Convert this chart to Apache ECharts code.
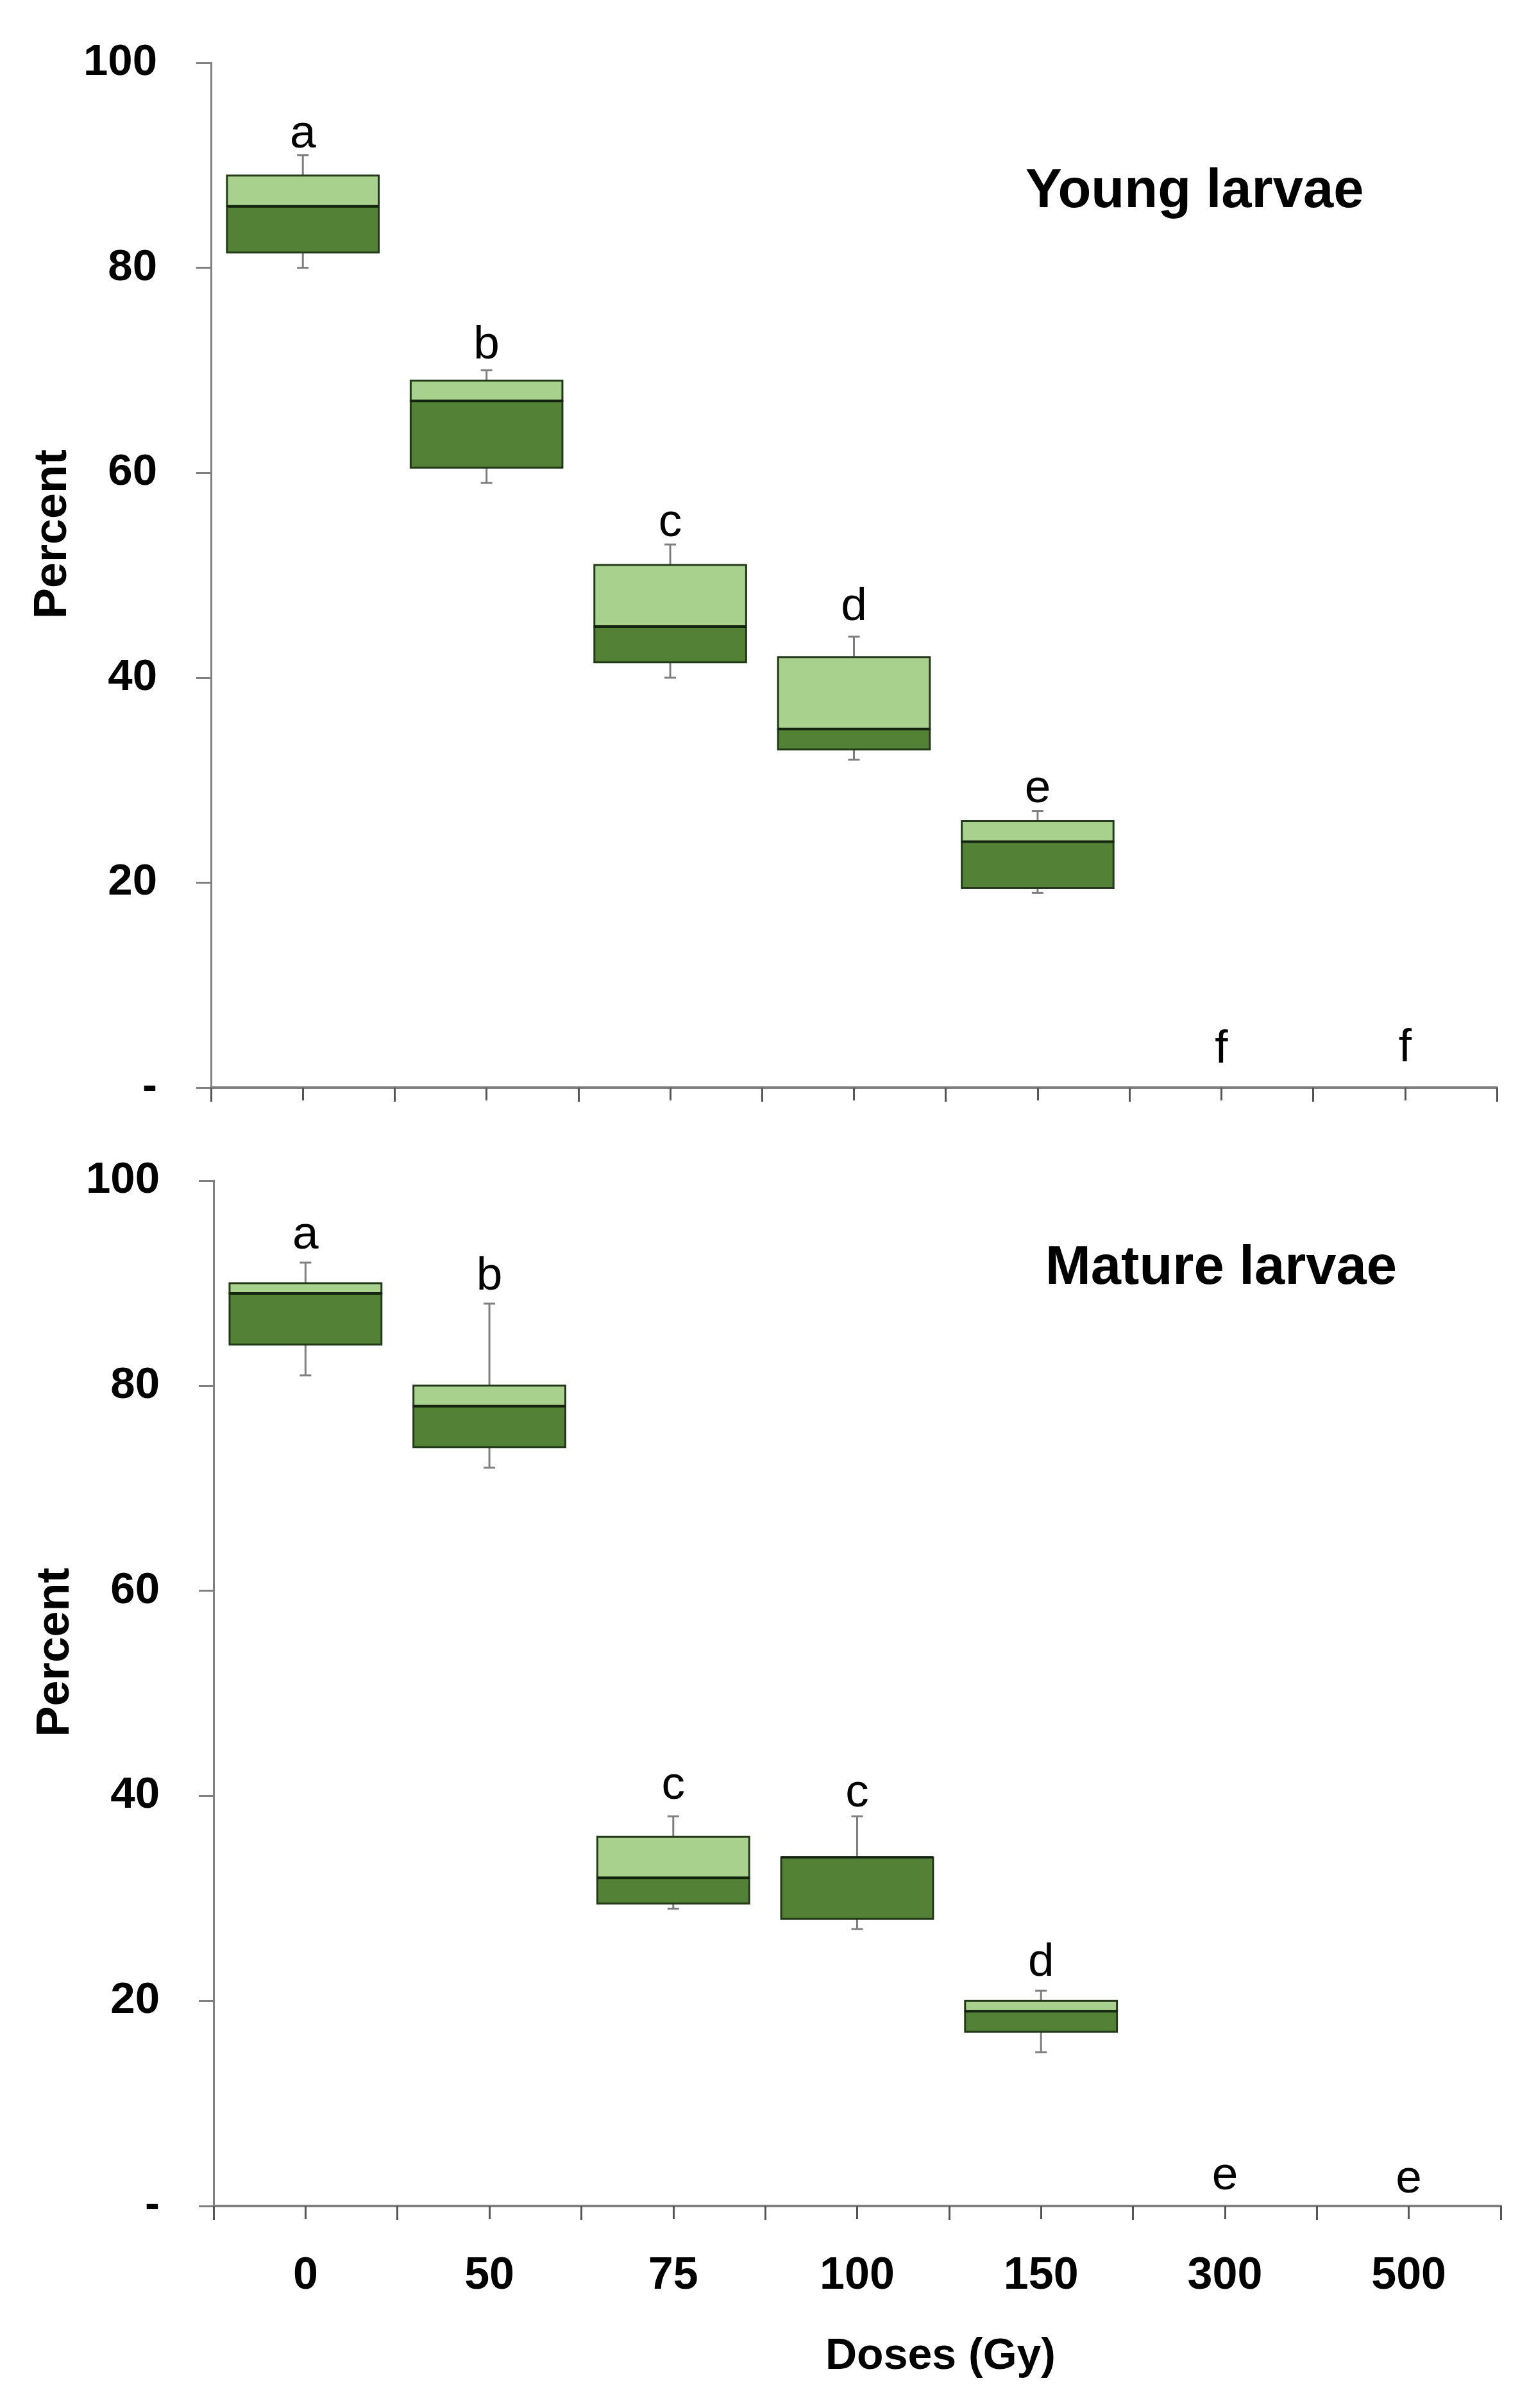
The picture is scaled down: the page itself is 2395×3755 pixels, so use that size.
<!DOCTYPE html>
<html>
<head>
<meta charset="utf-8">
<script src="https://cdn.jsdelivr.net/npm/echarts@6/dist/echarts.min.js"></script>
<style>
  html, body { margin: 0; padding: 0; background: #ffffff; }
  #chart { width: 2395px; height: 3755px; }
</style>
</head>
<body>
<div id="chart"></div>
<script>
// ---- data ----
const categories = ['0', '50', '75', '100', '150', '300', '500'];
const yTicks = [0, 20, 40, 60, 80, 100];

// Young larvae: whisker min, lower box edge, middle line, upper box edge, whisker max
const youngMin = [80, 59, 40, 32, 19];
const youngLow = [81.5, 60.5, 41.5, 33, 19.5];
const youngMid = [86, 67, 45, 35, 24];
const youngHigh = [89, 69, 51, 42, 26];
const youngMax = [91, 70, 53, 44, 27];
const youngLetters = ['a', 'b', 'c', 'd', 'e', 'f', 'f'];
const youngLetterAt = [93.0, 72.4, 55.1, 46.9, 29.1, 3.7, 3.8];

// Mature larvae
const matureMin = [81, 72, 29, 27, 15];
const matureLow = [84, 74, 29.5, 28, 17];
const matureMid = [89, 78, 32, 34, 19];
const matureHigh = [90, 80, 36, 34, 20];
const matureMax = [92, 88, 38, 38, 21];
const matureLetters = ['a', 'b', 'c', 'c', 'd', 'e', 'e'];
const matureLetterAt = [94.6, 90.6, 41.0, 40.2, 23.7, 2.9, 2.6];

// ---- styles ----
const FONT = 'Liberation Sans, Arial, sans-serif';
const DARK = '#538135';
const LIGHT = '#a9d18e';
const EDGE = '#23391a';
const WHISKER = '#7f7f7f';

function boxData(mn, lo, md, hi, mx) {
  return mn.map((v, i) => [i, mn[i], lo[i], md[i], hi[i], mx[i]]);
}
function letterData(pos) {
  return pos.map((v, i) => [i, v]);
}

function renderBox(params, api) {
  const x = api.value(0);
  const pMin = api.coord([x, api.value(1)]);
  const pLow = api.coord([x, api.value(2)]);
  const pMid = api.coord([x, api.value(3)]);
  const pHigh = api.coord([x, api.value(4)]);
  const pMax = api.coord([x, api.value(5)]);
  const bw = api.size([1, 0])[0] * 0.826;
  const cx = pLow[0];
  const left = cx - bw / 2;
  const cap = 9;
  const ws = { stroke: WHISKER, lineWidth: 3 };
  const children = [
    { type: 'line', shape: { x1: cx, y1: pHigh[1], x2: cx, y2: pMax[1] }, style: ws },
    { type: 'line', shape: { x1: cx - cap, y1: pMax[1], x2: cx + cap, y2: pMax[1] }, style: ws },
    { type: 'line', shape: { x1: cx, y1: pLow[1], x2: cx, y2: pMin[1] }, style: ws },
    { type: 'line', shape: { x1: cx - cap, y1: pMin[1], x2: cx + cap, y2: pMin[1] }, style: ws },
    { type: 'rect', shape: { x: left, y: pMid[1], width: bw, height: pLow[1] - pMid[1] },
      style: { fill: DARK, stroke: EDGE, lineWidth: 3 } },
    { type: 'rect', shape: { x: left, y: pHigh[1], width: bw, height: pMid[1] - pHigh[1] },
      style: { fill: LIGHT, stroke: EDGE, lineWidth: 3 } },
    { type: 'line', shape: { x1: left, y1: pMid[1], x2: left + bw, y2: pMid[1] },
      style: { stroke: '#15240f', lineWidth: 4 } }
  ];
  return { type: 'group', children: children };
}

function letterRenderer(letters) {
  return function (params, api) {
    const p = api.coord([api.value(0), api.value(1)]);
    return {
      type: 'text', x: p[0], y: p[1],
      style: { text: letters[params.dataIndex], fontSize: 73, fontFamily: FONT,
               fill: '#000', align: 'center', verticalAlign: 'middle' }
    };
  };
}

function xAxisMain(gridIndex, showLabels) {
  return {
    type: 'category', gridIndex: gridIndex, data: categories, position: 'bottom',
    boundaryGap: true,
    axisLine: { show: true, lineStyle: { color: '#808080', width: 4 } },
    axisTick: { show: true, interval: 0, length: 22, lineStyle: { color: '#555555', width: 3 } },
    axisLabel: { show: showLabels, interval: 0, margin: 75, fontSize: 70, fontWeight: 'bold',
                 color: '#000', fontFamily: FONT },
    splitLine: { show: false },
    name: showLabels ? 'Doses (Gy)' : '',
    nameLocation: 'middle', nameGap: 201,
    nameTextStyle: { fontSize: 68, fontWeight: 'bold', color: '#000', fontFamily: FONT,
                     padding: [0, 0, 0, 260] }
  };
}
function xAxisCenterTicks(gridIndex) {
  return {
    type: 'category', gridIndex: gridIndex, data: categories, position: 'bottom',
    boundaryGap: true,
    axisLine: { show: false },
    axisTick: { show: true, interval: 0, alignWithLabel: true, length: 20,
                lineStyle: { color: '#555555', width: 3 } },
    axisLabel: { show: false },
    splitLine: { show: false }
  };
}
function yAxis(gridIndex) {
  return {
    type: 'value', gridIndex: gridIndex, min: yTicks[0], max: yTicks[yTicks.length - 1],
    interval: yTicks[1] - yTicks[0],
    axisLine: { show: true, lineStyle: { color: '#808080', width: 3 } },
    axisTick: { show: true, length: 23, lineStyle: { color: '#808080', width: 3 } },
    axisLabel: { margin: 84, fontSize: 69, fontWeight: 'bold', color: '#000', fontFamily: FONT,
                 formatter: v => (v === 0 ? '-' : String(v)) },
    splitLine: { show: false },
    name: 'Percent', nameLocation: 'middle', nameGap: 200,
    nameTextStyle: { fontSize: 72, fontWeight: 'bold', color: '#000', fontFamily: FONT,
                     padding: [0, 0, 0, 128] }
  };
}

const chart = echarts.init(document.getElementById('chart'));
chart.setOption({
  animation: false,
  backgroundColor: '#ffffff',
  title: [
    { text: 'Young larvae', left: 1599, top: 257, padding: 0,
      textStyle: { fontSize: 85, fontWeight: 'bold', color: '#000', fontFamily: FONT, lineHeight: 85 } },
    { text: 'Mature larvae', left: 1630, top: 1936, padding: 0,
      textStyle: { fontSize: 85, fontWeight: 'bold', color: '#000', fontFamily: FONT, lineHeight: 85 } }
  ],
  grid: [
    { left: 329, right: 61, top: 98, height: 1598 },
    { left: 333, right: 55, top: 1841, height: 1599 }
  ],
  xAxis: [xAxisMain(0, false), xAxisCenterTicks(0), xAxisMain(1, true), xAxisCenterTicks(1)],
  yAxis: [yAxis(0), yAxis(1)],
  series: [
    { type: 'custom', name: 'Young larvae', xAxisIndex: 0, yAxisIndex: 0,
      renderItem: renderBox, encode: { x: 0, y: [1, 2, 3, 4, 5] },
      data: boxData(youngMin, youngLow, youngMid, youngHigh, youngMax) },
    { type: 'custom', name: 'Young letters', xAxisIndex: 0, yAxisIndex: 0,
      renderItem: letterRenderer(youngLetters), encode: { x: 0, y: 1 },
      data: letterData(youngLetterAt) },
    { type: 'custom', name: 'Mature larvae', xAxisIndex: 2, yAxisIndex: 1,
      renderItem: renderBox, encode: { x: 0, y: [1, 2, 3, 4, 5] },
      data: boxData(matureMin, matureLow, matureMid, matureHigh, matureMax) },
    { type: 'custom', name: 'Mature letters', xAxisIndex: 2, yAxisIndex: 1,
      renderItem: letterRenderer(matureLetters), encode: { x: 0, y: 1 },
      data: letterData(matureLetterAt) }
  ]
});
</script>
</body>
</html>
